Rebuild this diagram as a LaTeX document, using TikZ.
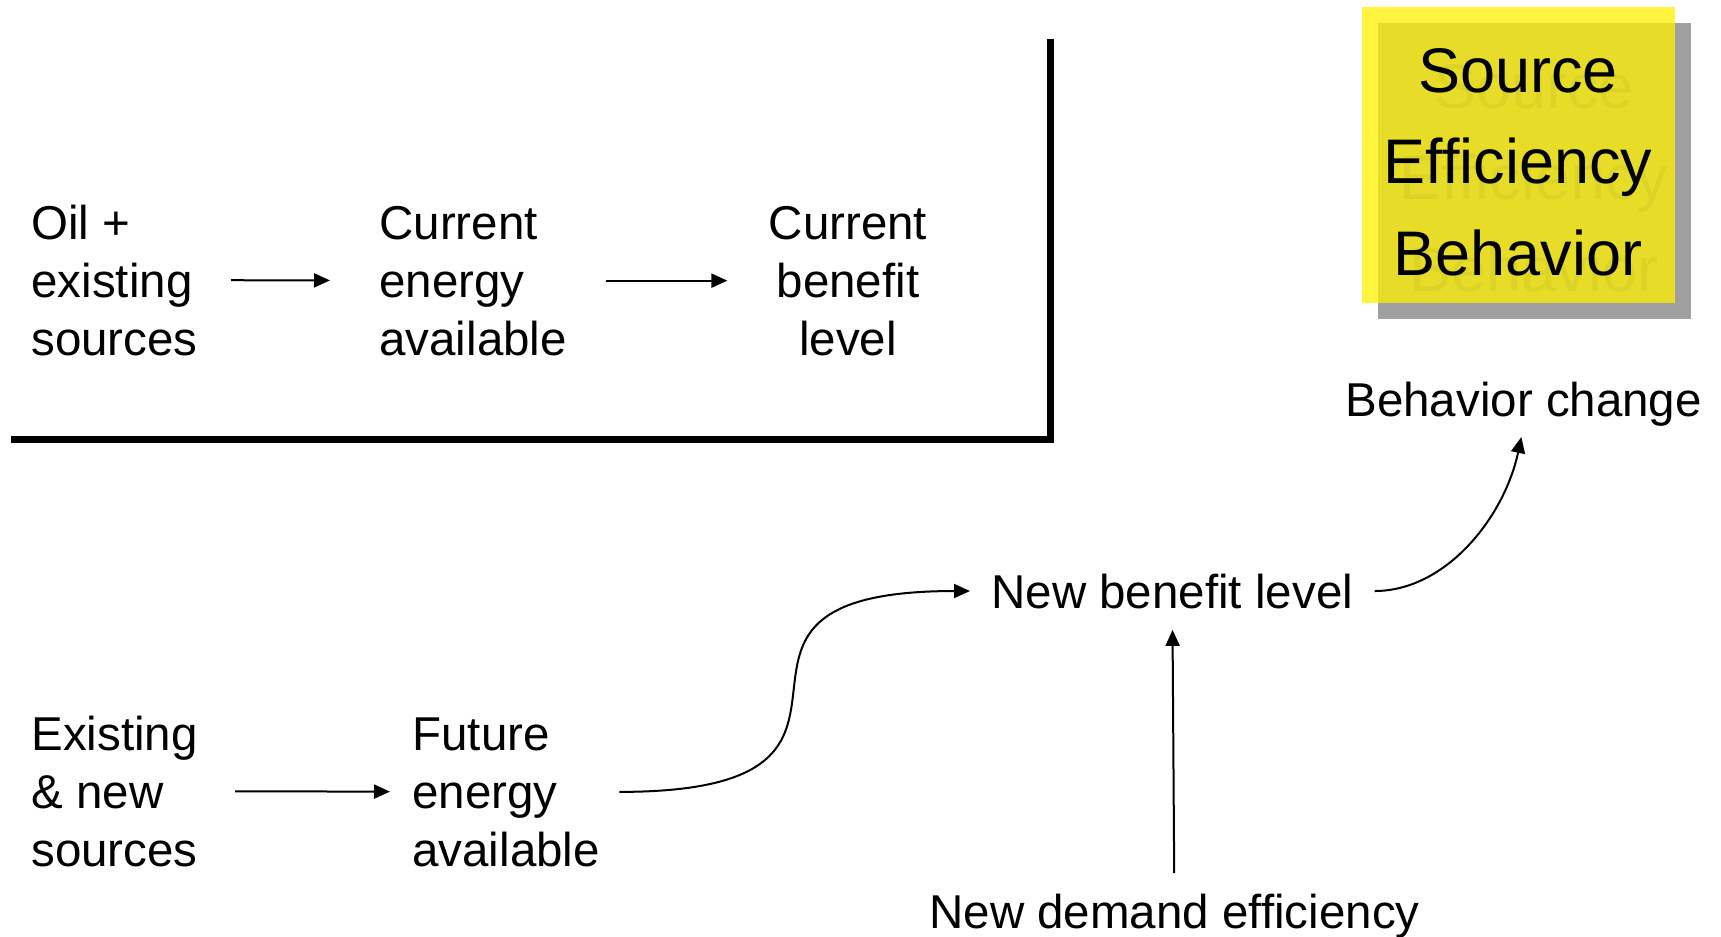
\documentclass[tikz,border=0pt]{standalone}
\usepackage{fontspec}
\setmainfont{Liberation Sans}
\usepackage{tikz}
\usetikzlibrary{arrows.meta}
\definecolor{shadowgray}{RGB}{160,160,160}

\begin{document}
\begin{tikzpicture}[x=0.5pt, y=-0.5pt,
		txt/.style={inner sep=0, font=\fontsize{23.75}{29}\selectfont},
		sfbtxt/.style={inner sep=0, align=center, anchor=base, font=\fontsize{31.5}{45.75}\selectfont},
		arr/.style={-{Triangle[length=8pt, width=7pt]}, line width=1pt}]
		\useasboundingbox (0, 0) rectangle (1721, 937);
		
		% Today: sources -> energy -> benefit (base = last line)
		\node[txt, align=left, anchor=base west] (oil) at (31, 355) {Oil +\\existing\\sources};
		\node[txt, align=left, anchor=base west] (cea) at (379, 355) {Current\\energy\\available};
		\node[txt, align=center, anchor=base] (cbl) at (848, 355) {Current\\benefit\\level};
		\draw[arr, shorten <=16.5pt, shorten >=24.5pt] (oil) -- (cea);
		\draw[arr, shorten <=19.5pt, shorten >=20.5pt] (cea) -- (cbl);
		
		% Thick corner line closing off the top row
		\draw[line width=3.5pt] (11, 439.5) -- (1050.5, 439.5) -- (1050.5, 39);
		
		% Tomorrow
		\node[txt, align=left, anchor=base west] (esrc) at (31, 866) {Existing\\\& new\\sources};
		\node[txt, align=left, anchor=base west] (fea) at (412, 866) {Future\\energy\\available};
		\node[txt, anchor=base west] (nbl) at (991, 608) {New benefit level};
		\node[txt, anchor=base west] (nde) at (929, 928) {New demand efficiency};
		\node[txt, anchor=base west] (bch) at (1345, 416) {Behavior change};
		\draw[arr, shorten <=18.5pt, shorten >=11pt] (esrc) -- (fea);
		\draw[arr, shorten <=9.5pt, shorten >=10.5pt] (fea.east) .. controls +(340, 0) and +(-340, 0) .. (nbl.west);
		\draw[arr, shorten <=10pt, shorten >=10.5pt] (nde) -- (nbl);
		\draw[arr, shorten <=10.5pt, shorten >=5.5pt] (nbl.east) to[out=0, in=-102] (bch.south);
		
		% Yellow note with its shadow
		\fill[shadowgray] (1378, 23) rectangle (1691, 319);
		\fill[yellow, fill opacity=0.75] (1362, 7) rectangle (1675, 303);
		\node[sfbtxt, text opacity=0.045] (sfbghost) at (1534, 291) {Source\\Efficiency\\Behavior};
		\node[sfbtxt] (sfb) at (1518, 275) {Source\\Efficiency\\Behavior};
	\end{tikzpicture}
\end{document}
